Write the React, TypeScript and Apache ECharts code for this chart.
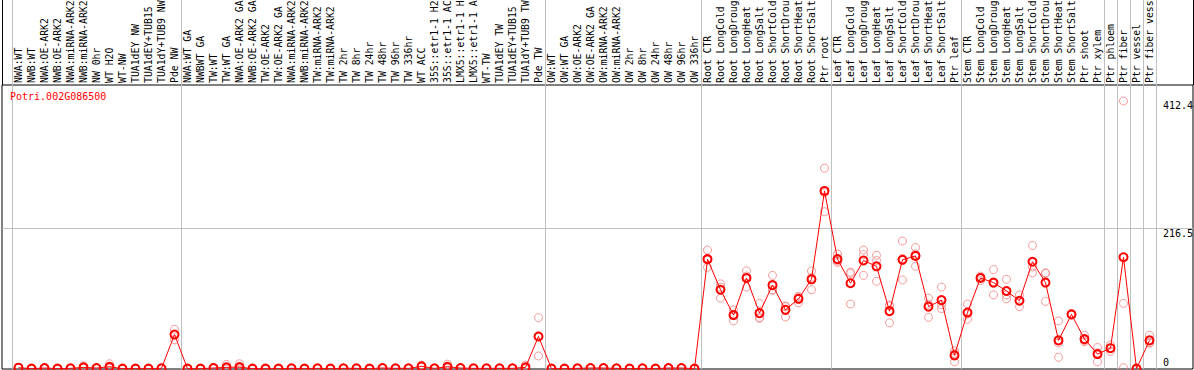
import React, { useEffect, useRef } from "react";
import * as echarts from "echarts";

const geneId = "Potri.002G086500";

const categories = [
  "NWA:WT", "NWB:WT", "NWA:OE-ARK2", "NWB:OE-ARK2", "NWA:miRNA-ARK2", "NWB:miRNA-ARK2",
  "NW 0hr", "WT H2O", "WT-NW", "TUA1dEY NW", "TUA1dEY+TUB15 NW", "TUA1dY+TUB9 NW", "Pde NW",
  "NWA:WT GA", "NWBWT GA", "TW:WT", "TW:WT GA", "NWA:OE-ARK2 GA", "NWB:OE-ARK2 GA",
  "TW:OE-ARK2", "TW:OE-ARK2 GA", "NWA:miRNA-ARK2", "NWB:miRNA-ARK2", "TW:miRNA-ARK2",
  "TW:miRNA-ARK2", "TW 2hr", "TW 8hr", "TW 24hr", "TW 48hr", "TW 96hr", "TW 336hr", "WT ACC",
  "35S::etr1-1 H2O", "35S::etr1-1 ACC", "LMX5::etr1-1 H2O", "LMX5::etr1-1 ACC", "WT-TW",
  "TUA1dEY TW", "TUA1dEY+TUB15 TW", "TUA1dY+TUB9 TW", "Pde TW",
  "OW:WT", "OW:WT GA", "OW:OE-ARK2", "OW:OE-ARK2 GA", "OW:miRNA-ARK2", "OW:miRNA-ARK2",
  "OW 2hr", "OW 8hr", "OW 24hr", "OW 48hr", "OW 96hr", "OW 336hr",
  "Root CTR", "Root LongCold", "Root LongDrought", "Root LongHeat", "Root LongSalt",
  "Root ShortCold", "Root ShortDrought", "Root ShortHeat", "Root ShortSalt", "Ptr root",
  "Leaf CTR", "Leaf LongCold", "Leaf LongDrought", "Leaf LongHeat", "Leaf LongSalt",
  "Leaf ShortCold", "Leaf ShortDrought", "Leaf ShortHeat", "Leaf ShortSalt", "Ptr leaf",
  "Stem CTR", "Stem LongCold", "Stem LongDrought", "Stem LongHeat", "Stem LongSalt",
  "Stem ShortCold", "Stem ShortDrought", "Stem ShortHeat", "Stem ShortSalt",
  "Ptr shoot", "Ptr xylem", "Ptr phloem", "Ptr fiber", "Ptr vessel", "Ptr fiber vessel",
];

const meanValues = [
  2, 0.5, 1.5, 0.5, 1, 2.5, 1.5, 3.5, 0.5, 0.5, 0.5, 1, 53,
  0.5, 0.5, 1.5, 2.5, 3, 0.5, 0.5, 0.5, 1, 0.5, 1, 0.5, 1, 1, 0.5, 1.5, 1, 1, 4,
  1, 3.5, 1.5, 1, 1, 1, 1, 2.5, 50,
  0.5, 0.5, 1, 1.5, 1.5, 1, 0.5, 1, 0.5, 1.5, 1.5, 0.5,
  169, 122, 83, 140, 86, 129, 91, 108, 138, 274,
  169, 132, 167, 158, 89, 168, 174, 96, 106, 21,
  87, 140, 133, 120, 105, 165, 133, 44, 84,
  46, 23, 32, 172, 0.5, 44,
];

const replicate1 = [
  1.5, 0.3, 1, 0.5, 0.8, 1, 1, 8, 0.4, 0.4, 0.4, 0.8, 61,
  0.4, 0.4, 1, 7, 8, 0.4, 0.4, 0.4, 1, 0.4, 1, 0.4, 1, 1, 0.4, 2, 1, 1, 6,
  1, 7.5, 1.5, 1, 1, 1, 1, 6, 79,
  0.4, 0.4, 1, 1.5, 1.5, 1, 0.4, 1, 0.4, 1.5, 1.5, 0.4,
  183, 131, 91, 151, 101, 144, 96, 102, 151, 309,
  177, 149, 183, 175, 98.5, 197, 187, 109, 126, 28,
  100, 141, 153, 138, 114, 190, 148, 74, 85,
  52, 33, 37, 412.4, 0.5, 52,
];

const replicate2 = [
  2.5, 0.6, 2, 0.4, 1.2, 5, 2, 1.5, 0.6, 0.6, 0.6, 1.4, 45,
  0.6, 0.6, 2.5, 0.3, 0.5, 0.6, 0.6, 0.6, 1, 0.6, 1, 0.6, 1, 1, 0.6, 1, 1, 1, 3,
  1, 1.5, 1.5, 1, 1, 1, 1, 0.8, 20,
  0.6, 0.6, 1, 1.5, 1.5, 1, 0.6, 1, 0.6, 1.5, 1.5, 0.6,
  156.5, 109, 74, 126, 78, 122, 80, 112, 122, 242,
  164, 100, 176, 167, 71, 137, 158, 79.5, 93, 11,
  76.5, 136, 114, 108, 96, 148, 104, 18, 83,
  42, 11, 27, 101, 0.5, 40,
];

const replicate3 = [
  2, 0.6, 1.5, 0.6, 1, 1.5, 1.5, 1, 0.5, 0.5, 0.5, 0.8, 53,
  0.5, 0.5, 1, 0.2, 0.5, 0.5, 0.5, 0.5, 1, 0.5, 1, 0.5, 1, 1, 0.5, 1.5, 1, 1, 3,
  1, 1.5, 1.5, 1, 1, 1, 1, 0.7, 51,
  0.5, 0.5, 1, 1.5, 1.5, 1, 0.5, 1, 0.5, 1.5, 1.5, 0.5,
  167.5, 126, 84, 143, 79, 121, 97, 110, 141, 271,
  166, 147, 144, 135, 97, 170, 177, 99.5, 99, 24,
  84.5, 143, 132, 114, 105, 157, 147, 40, 84,
  44, 25, 32, 2, 0.5, 40,
];

const yLabelsTop = [216.5, 412.4];
const yLabelsBottom = [0];
const yGridLines = [216.5];
const groupStarts = [0, 13, 41, 53, 63, 73, 84, 85, 86, 87];
const Y_MAX = 437;
const LABEL_MAX_CHARS = 14;

export default function App() {
  const ref = useRef<HTMLDivElement>(null);

  useEffect(() => {
    if (!ref.current) return;
    const chart = echarts.init(ref.current, null, { renderer: "svg" });
    const font = "'DejaVu Sans Mono', monospace";
    const groupSet = new Set(groupStarts);

    const repData: number[][] = [];
    [replicate1, replicate2, replicate3].forEach((arr) =>
      arr.forEach((v, i) => repData.push([i, v]))
    );

    const splitLineCat = {
      show: true,
      interval: (i: number) => groupSet.has(i),
      lineStyle: { color: "#c0c0c0", width: 1 },
    };

    chart.setOption({
      animation: false,
      backgroundColor: "#fff",
      title: {
        text: geneId,
        left: 10,
        top: 91,
        padding: 0,
        textStyle: { color: "#ff0000", fontSize: 10, fontFamily: font, fontWeight: "normal" },
      },
      grid: [
        { left: 12, right: 38, top: 85, bottom: 1, outerBoundsMode: "none", containLabel: false },
        {
          left: 2, right: 1, top: 85, bottom: 1, outerBoundsMode: "none", containLabel: false,
          show: true, borderColor: "#000", borderWidth: 1, backgroundColor: "transparent",
        },
        { left: 12, right: 38, top: 0, height: 85, outerBoundsMode: "none", containLabel: false },
      ],
      xAxis: [
        {
          gridIndex: 0,
          type: "category",
          data: categories,
          position: "top",
          boundaryGap: true,
          axisLine: { show: false, onZero: false },
          axisTick: { show: false },
          axisLabel: {
            interval: 0, rotate: -90, margin: 2,
            align: "left", verticalAlign: "middle",
            hideOverlap: false,
            fontSize: 9.8, fontFamily: font, color: "#000",
            formatter: (v: string) => v.slice(0, LABEL_MAX_CHARS).trimEnd(),
          },
          splitLine: splitLineCat,
        },
        { gridIndex: 1, type: "value", show: false, min: 0, max: 1 },
        {
          gridIndex: 2,
          type: "category",
          data: categories,
          boundaryGap: true,
          axisLine: { show: false, onZero: false },
          axisTick: { show: false },
          axisLabel: { show: false },
          splitLine: splitLineCat,
        },
      ],
      yAxis: [
        {
          gridIndex: 0, type: "value", min: 0, max: Y_MAX, position: "right",
          axisLine: { show: false }, axisTick: { show: false, customValues: yLabelsTop },
          splitLine: { show: false },
          axisLabel: {
            customValues: yLabelsTop, verticalAlign: "middle", margin: 7,
            fontSize: 10, fontFamily: font, color: "#000",
            formatter: (v: number) => "{t|" + String(v) + "}",
            rich: {
              t: { fontSize: 10, fontFamily: font, color: "#000", padding: [10, 0, 0, 0] },
            },
          },
        },
        {
          gridIndex: 1, type: "value", min: 0, max: Y_MAX,
          axisLine: { show: false }, axisTick: { show: false, customValues: yGridLines },
          axisLabel: { show: false },
          splitLine: { show: true, lineStyle: { color: "#c0c0c0", width: 1 } },
        },
        { gridIndex: 2, type: "value", min: 0, max: 1, show: false },
        {
          gridIndex: 0, type: "value", min: 0, max: Y_MAX, position: "right",
          axisLine: { show: false }, axisTick: { show: false, customValues: yLabelsBottom },
          splitLine: { show: false },
          axisLabel: {
            customValues: yLabelsBottom, verticalAlign: "bottom", margin: 7,
            padding: [0, 0, 2, 0],
            fontSize: 10, fontFamily: font, color: "#000",
            formatter: (v: number) => String(v),
          },
        },
      ],
      graphic: [
        { type: "line", shape: { x1: 2.5, y1: 0, x2: 2.5, y2: 85 }, style: { stroke: "#000", lineWidth: 1 } },
        { type: "line", shape: { x1: 1193.5, y1: 0, x2: 1193.5, y2: 85 }, style: { stroke: "#000", lineWidth: 1 } },
      ],
      series: [
        {
          type: "scatter",
          xAxisIndex: 0,
          yAxisIndex: 0,
          data: repData,
          symbol: "circle",
          symbolSize: 8,
          itemStyle: { color: "rgba(255,255,255,0)", borderColor: "#f08080", borderWidth: 1 },
          z: 2,
        },
        {
          type: "line",
          xAxisIndex: 0,
          yAxisIndex: 0,
          data: meanValues,
          symbol: "circle",
          symbolSize: 8,
          showSymbol: true,
          showAllSymbol: true,
          itemStyle: { color: "rgba(255,255,255,0)", borderColor: "#ff0000", borderWidth: 2 },
          lineStyle: { color: "#ff0000", width: 1 },
          z: 3,
        },
      ],
    });

    return () => chart.dispose();
  }, []);

  return (
    <div
      ref={ref}
      style={{ position: "absolute", left: 0, top: 0, width: 1194, height: 370 }}
    />
  );
}
